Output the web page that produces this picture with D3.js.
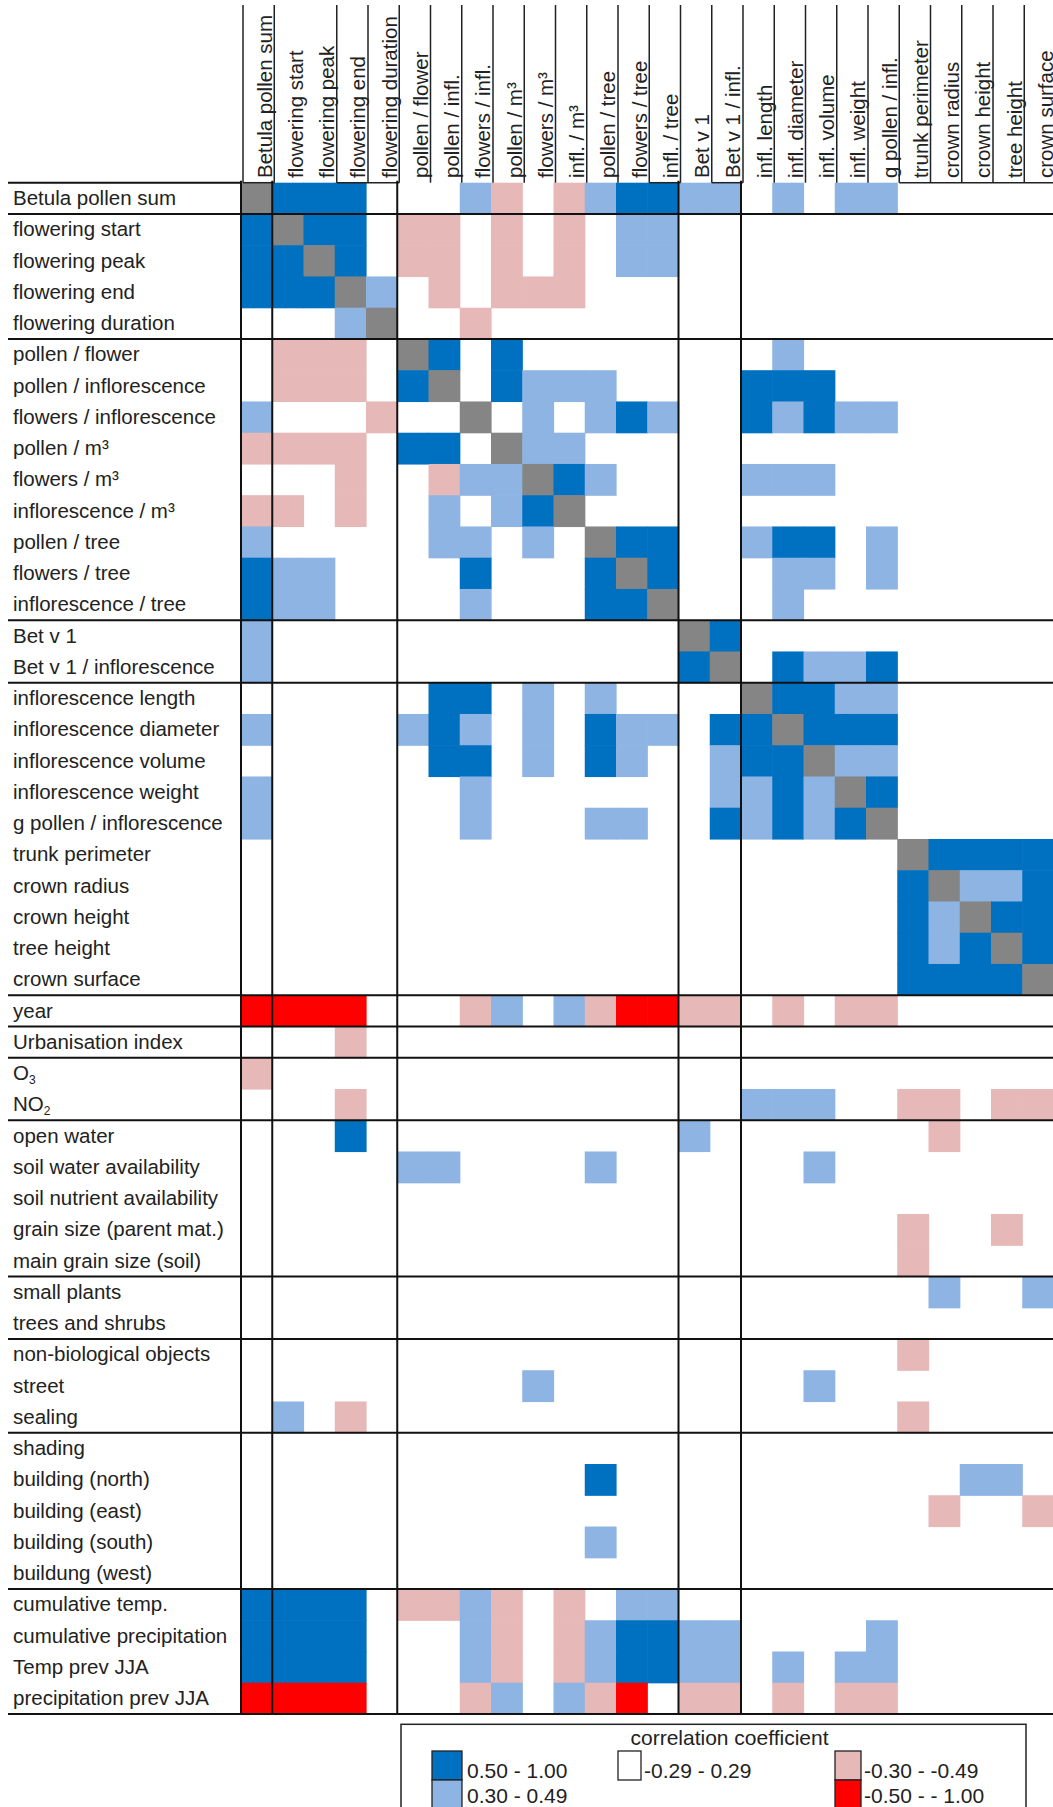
<!DOCTYPE html>
<html><head><meta charset="utf-8">
<script src="https://cdn.jsdelivr.net/npm/d3@7"></script>
<style>
html,body{margin:0;padding:0;background:#fff;}
svg{display:block;}
text{font-family:"Liberation Sans",Arial,sans-serif;fill:#222;}
</style></head><body>
<svg id="chart" width="1053" height="1807"></svg>
<script>
// ---------- DATA ----------
const colLabels = ["Betula pollen sum","flowering start","flowering peak","flowering end","flowering duration",
  "pollen / flower","pollen / infl.","flowers / infl.","pollen / m³","flowers / m³","infl. / m³",
  "pollen / tree","flowers / tree","infl. / tree","Bet v 1","Bet v 1 / infl.","infl. length",
  "infl. diameter","infl. volume","infl. weight","g pollen / infl.","trunk perimeter","crown radius",
  "crown height","tree height","crown surface"];

const rowLabels = ["Betula pollen sum","flowering start","flowering peak","flowering end","flowering duration",
  "pollen / flower","pollen / inflorescence","flowers / inflorescence","pollen / m³","flowers / m³",
  "inflorescence / m³","pollen / tree","flowers / tree","inflorescence / tree","Bet v 1",
  "Bet v 1 / inflorescence","inflorescence length","inflorescence diameter","inflorescence volume",
  "inflorescence weight","g pollen / inflorescence","trunk perimeter","crown radius","crown height",
  "tree height","crown surface","year","Urbanisation index","O₃","NO₂","open water",
  "soil water availability","soil nutrient availability","grain size (parent mat.)",
  "main grain size (soil)","small plants","trees and shrubs","non-biological objects","street",
  "sealing","shading","building (north)","building (east)","building (south)","buildung (west)",
  "cumulative temp.","cumulative precipitation","Temp prev JJA","precipitation prev JJA"];

// class per cell: B = 0.50..1.00, b = 0.30..0.49, . = -0.29..0.29, r = -0.30..-0.49, R = -0.50..-1.00, x = diagonal
const matrixRows = [
  "xBBB...br.rbBBbb.b.bb.....",
  "BxBB.rr.r.r.bb............",
  "BBxB.rr.r.r.bb............",
  "BBBxb.r.rrr...............",
  "...bx..r..................",
  ".rrr.xB.B........b........",
  ".rrr.Bx.Bbbb....BBB.......",
  "b...r..x.b.bBb..BbBbb.....",
  "rrrr.BB.xbb...............",
  "...r..rbbxBb....bbb.......",
  "rr.r..b.bBx...............",
  "b.....bb.b.xBB..bBB.b.....",
  "Bbb....B...BxB...bb.b.....",
  "Bbb....b...BBx...b........",
  "b.............xB..........",
  "b.............Bx.BbbB.....",
  "......BB.b.b....xBBbb.....",
  "b....bBb.b.Bbb.BBxBBB.....",
  "......BB.b.Bb..bBBxbb.....",
  "b......b.......bbBbxB.....",
  "b......b...bb..BbBbBx.....",
  ".....................xBBBB",
  ".....................BxbbB",
  ".....................BbxBB",
  ".....................BbBxB",
  ".....................BBBBx",
  "RRRR...rb.brRRrr.r.rr.....",
  "...r......................",
  "r.........................",
  "...r............bbb..rr.rr",
  "...B..........b.......r...",
  ".....bb....b......b.......",
  "..........................",
  ".....................r..r.",
  ".....................r....",
  "......................b..b",
  "..........................",
  ".....................r....",
  ".........b........b.......",
  ".b.r.................r....",
  "..........................",
  "...........B...........bb.",
  "......................r..r",
  "...........b..............",
  "..........................",
  "BBBB.rrbr.r.bb............",
  "BBBB...br.rbBBbb....b.....",
  "BBBB...br.rbBBbb.b.bb.....",
  "RRRR...rb.brR.rr.r.rr....."
];

const classCodes = ["B","b",".","r","R","x"];
const legendTitle = "correlation coefficient";
const legendCodes = ["B","b",".","r","R"];
const legendLabels = ["0.50 - 1.00","0.30 - 0.49","-0.29 - 0.29","-0.30 - -0.49","-0.50 - - 1.00"];

// group boundaries (index of last row / column in a group)
const rowGroupEnds = [0,4,13,15,25,26,27,29,34,36,39,44,48];
const colGroupEnds = [0,4,13,15];

// ---------- LAYOUT ----------
const svg = d3.select("#chart");
const gridLeft = 241, gridRight = 1053.5, gridTop = 182.7, gridBottom = 1714;
const fontSize = 20.5;

const x = d3.scaleBand().domain(d3.range(colLabels.length)).range([gridLeft, gridRight]).padding(0);
const y = d3.scaleBand().domain(d3.range(rowLabels.length)).range([gridTop, gridBottom]).padding(0);
const color = d3.scaleOrdinal().domain(classCodes)
  .range(["#0070C0","#8DB4E2","#ffffff","#E6B8B7","#FF0000","#858585"]);

// cells
const cells = [];
matrixRows.forEach((row, i) => {
  row.split("").forEach((c, j) => { if (c !== ".") cells.push({i, j, c}); });
});
svg.append("g").selectAll("rect").data(cells).join("rect")
  .attr("x", d => x(d.j))
  .attr("y", d => y(d.i))
  .attr("width", x.bandwidth() + 0.6)
  .attr("height", y.bandwidth() + 0.6)
  .attr("fill", d => color(d.c));

// row labels
const rowG = svg.append("g");
rowLabels.forEach((lab, i) => {
  const t = rowG.append("text")
    .attr("x", 13)
    .attr("y", y(i) + 22.5)
    .attr("font-size", fontSize);
  const m = lab.match(/^(.*?)([₀-₉])$/);
  if (m) {
    t.append("tspan").text(m[1]);
    const sub = String("₀₁₂₃₄₅₆₇₈₉".indexOf(m[2]));
    t.append("tspan").attr("font-size", 12).attr("dy", 4).text(sub);
  } else {
    t.text(lab);
  }
});

// column labels (rotated)
const colG = svg.append("g");
colLabels.forEach((lab, j) => {
  const bx = x(j) + 30.5, by = 178;
  colG.append("text")
    .attr("transform", `translate(${bx},${by}) rotate(-90)`)
    .attr("font-size", fontSize)
    .text(lab);
});

// header vertical borders
const hdr = svg.append("g").attr("stroke", "#222").attr("stroke-width", 1.5);
d3.range(colLabels.length).filter(j => j !== 2).forEach(j => {
  const xx = x(j) + 2;
  hdr.append("line").attr("x1", xx).attr("x2", xx).attr("y1", 5).attr("y2", gridTop);
});
// header bottom segments
[[0,0],[3,4],[13,13],[15,15],[21,25]].forEach(([a,b]) => {
  hdr.append("line").attr("x1", x(a) + 2).attr("x2", Math.min(x(b) + x.bandwidth() + 2, 1053))
    .attr("y1", gridTop).attr("y2", gridTop);
});

// grid separators
const sep = svg.append("g").attr("stroke", "#111").attr("stroke-width", 2);
sep.append("line").attr("x1", 8).attr("x2", gridLeft).attr("y1", gridTop).attr("y2", gridTop);
rowGroupEnds.forEach(i => {
  const yy = y(i) + y.bandwidth();
  sep.append("line").attr("x1", 8).attr("x2", 1053).attr("y1", yy).attr("y2", yy);
});
[gridLeft].concat(colGroupEnds.map(j => x(j) + x.bandwidth())).forEach(xx => {
  sep.append("line").attr("x1", xx).attr("x2", xx).attr("y1", gridTop - 2).attr("y2", gridBottom);
});

// legend
const lg = svg.append("g");
lg.append("rect").attr("x", 401).attr("y", 1724.3).attr("width", 625).attr("height", 110)
  .attr("fill", "#fff").attr("stroke", "#222").attr("stroke-width", 1.5);
lg.append("text").attr("x", 729.5).attr("y", 1745).attr("text-anchor", "middle")
  .attr("font-size", 21).text(legendTitle);
const legendPos = [
  {sx: 432, sy: 1751, sw: 30, sh: 29, tx: 467, ty: 1778},
  {sx: 432, sy: 1780, sw: 30, sh: 29, tx: 467, ty: 1803},
  {sx: 618, sy: 1751, sw: 23, sh: 29, tx: 644, ty: 1778},
  {sx: 835, sy: 1751, sw: 26, sh: 29, tx: 864, ty: 1778},
  {sx: 835, sy: 1780, sw: 26, sh: 29, tx: 864, ty: 1803}
];
legendCodes.forEach((c, k) => {
  const p = legendPos[k];
  lg.append("rect").attr("x", p.sx).attr("y", p.sy).attr("width", p.sw).attr("height", p.sh)
    .attr("fill", color(c)).attr("stroke", "#222").attr("stroke-width", 1.3);
  lg.append("text").attr("x", p.tx).attr("y", p.ty).attr("font-size", 21).text(legendLabels[k]);
});
</script>
</body></html>
